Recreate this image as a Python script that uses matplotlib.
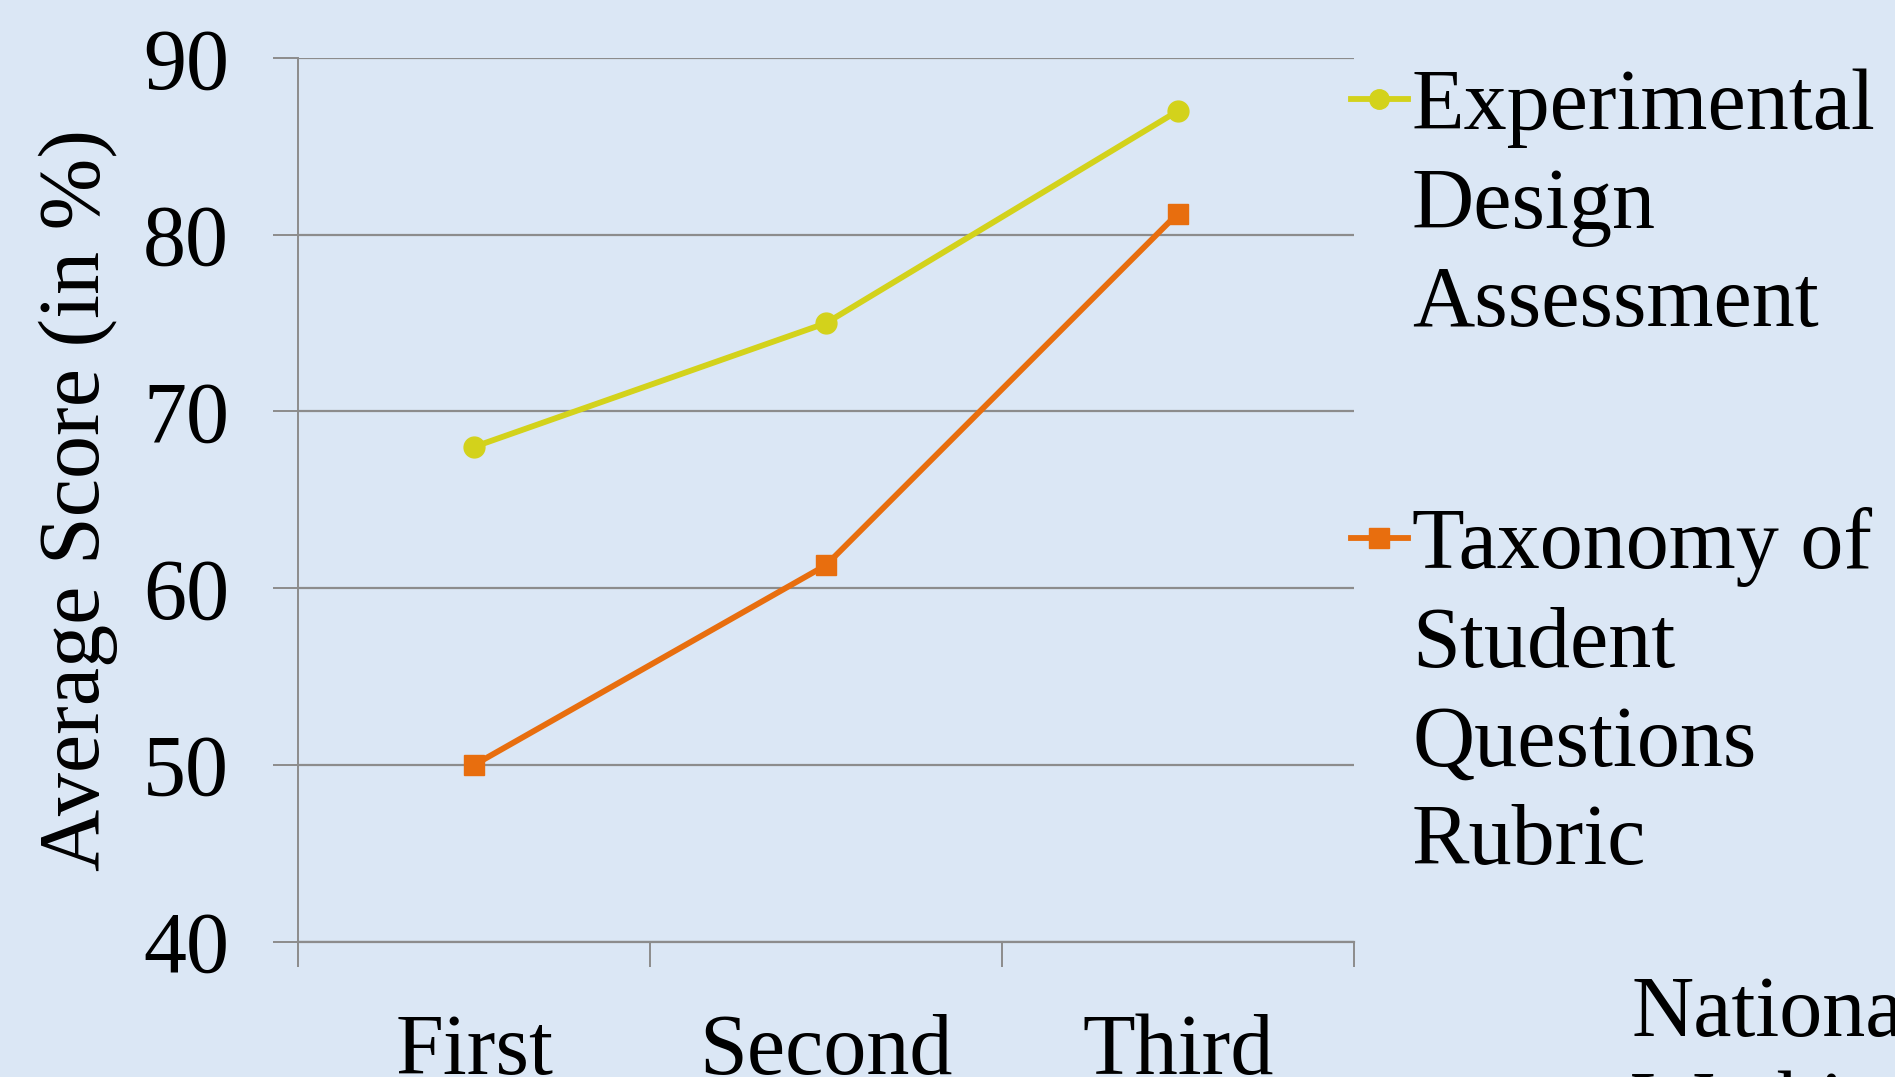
import matplotlib
matplotlib.use("Agg")
import matplotlib.pyplot as plt
from matplotlib.lines import Line2D

# Data
categories = ["First", "Second", "Third"]
experimental = [68, 75, 87]
taxonomy = [50, 61.3, 81.2]
series_labels = ["Experimental\nDesign\nAssessment", "Taxonomy of\nStudent\nQuestions\nRubric"]
y_ticks = [40, 50, 60, 70, 80, 90]

BG = "#DBE7F5"
YELLOW = "#D3D21B"
ORANGE = "#E86E0E"
GRID = "#8C8C8C"
FONT = "Liberation Serif"
FS = 62
LW = 4.2
MS = 15

plt.rcParams["font.family"] = [FONT, "DejaVu Serif"]

fig = plt.figure(figsize=(18.95, 10.77), dpi=100, facecolor=BG)
ax = fig.add_axes([0.1575, 0.1258, 0.5568, 0.8203])
ax.set_facecolor(BG)

x = list(range(len(categories)))
ax.plot(x, experimental, color=YELLOW, lw=LW, marker="o", ms=MS, zorder=3)
ax.plot(x, taxonomy, color=ORANGE, lw=LW, marker="s", ms=MS - 1, zorder=3)

ax.set_xlim(-0.5, len(categories) - 0.5)
ax.set_ylim(40, 90)
ax.set_yticks(y_ticks)
ax.set_yticklabels([str(v) for v in y_ticks])
ax.yaxis.grid(True, color=GRID, lw=1.6)
ax.set_axisbelow(True)

# category boundaries as major ticks, labels on minor ticks
ax.set_xticks([i - 0.5 for i in range(len(categories) + 1)])
ax.set_xticklabels([])
ax.set_xticks(x, minor=True)
ax.set_xticklabels(categories, minor=True)
ax.tick_params(axis="x", which="major", direction="out", length=18, width=1.4, color=GRID)
ax.tick_params(axis="x", which="minor", length=0, pad=52, labelsize=FS)
ax.tick_params(axis="y", direction="out", length=18, width=1.4, color=GRID, pad=32, labelsize=FS)

for side in ["top", "right"]:
    ax.spines[side].set_visible(False)
ax.spines["left"].set_color(GRID)
ax.spines["left"].set_linewidth(1.4)
ax.spines["bottom"].set_color(GRID)
ax.spines["bottom"].set_linewidth(1.6)

ax.set_ylabel("Average Score (in %)", fontsize=FS)
ax.yaxis.set_label_coords(-0.171, 0.5)

# legend drawn beside the plot
W, H = 1895.0, 1077.0
line_h = 98.5
entries = [(YELLOW, "o", series_labels[0], 99), (ORANGE, "s", series_labels[1], 538)]
for color, mk, label, ytop in entries:
    yf = 1 - ytop / H
    fig.add_artist(Line2D([1351 / W, 1408 / W], [yf, yf], color=color, lw=LW,
                          transform=fig.transFigure))
    fig.add_artist(Line2D([1379 / W], [yf], color=color, marker=mk, ms=MS - 1,
                          transform=fig.transFigure))
    for i, ln in enumerate(label.split("\n")):
        fig.text(1412 / W, 1 - (ytop + i * line_h) / H, ln, fontsize=FS,
                 va="center_baseline", ha="left")

fig.text(1632 / W, 1 - 1036 / H, "National", fontsize=FS, ha="left", va="baseline")
fig.text(1632 / W, 1 - 1131 / H, "Washington", fontsize=FS, ha="left", va="baseline")

fig.savefig("out.png", dpi=100, facecolor=BG)
